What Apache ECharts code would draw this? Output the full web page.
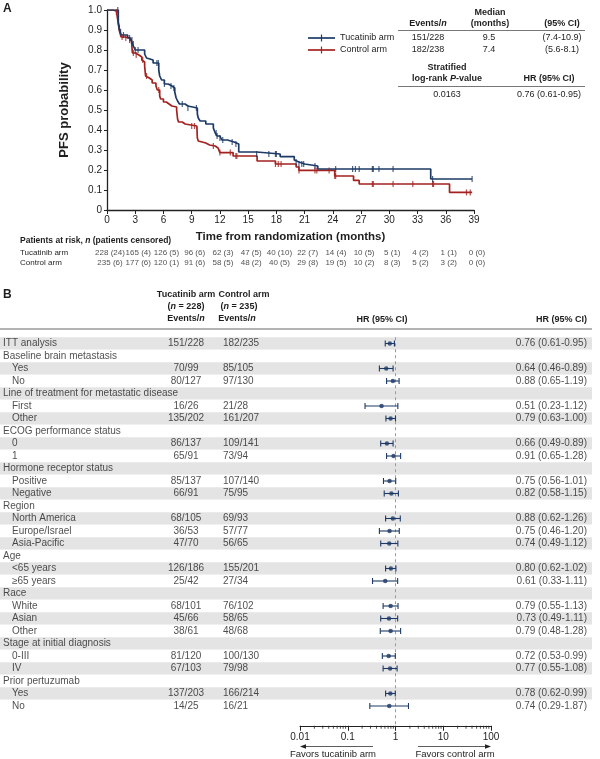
<!DOCTYPE html>
<html>
<head>
<meta charset="utf-8">
<script src="https://cdn.jsdelivr.net/npm/echarts@6/dist/echarts.min.js"></script>
<style>
html, body { margin: 0; padding: 0; background: #fff; }
#chart { width: 600px; height: 759px; }
</style>
</head>
<body>
<div id="chart"></div>
<script>
// ---------- Panel A: Kaplan-Meier step points [month, PFS probability] ----------
const tucatinibKM = [[0,1.0],[1.2,0.94],[1.3,0.91],[1.4,0.89],[1.5,0.875],[2.2,0.86],[2.5,0.85],[2.7,0.83],[2.85,0.815],[3.0,0.80],
  [4.0,0.78],[4.2,0.76],[4.4,0.75],[4.9,0.735],[5.5,0.70],[5.6,0.67],[5.8,0.65],[6.1,0.63],[6.5,0.62],[6.9,0.61],[7.2,0.59],
  [7.35,0.56],[7.5,0.545],[7.7,0.53],[8.3,0.52],[8.6,0.51],[9.6,0.48],[9.7,0.46],[9.9,0.445],[10.5,0.43],[11.3,0.41],[11.5,0.385],
  [11.7,0.37],[12.0,0.36],[12.2,0.35],[12.8,0.34],[13.5,0.33],[14.0,0.29],[15.9,0.28],[18.4,0.267],[19.9,0.25],[20.1,0.24],
  [20.4,0.23],[21.0,0.22],[22.4,0.205],[34.4,0.155],[38.8,0.155]];
const controlKM = [[0,1.0],[0.6,0.995],[1.0,0.99],[1.2,0.93],[1.35,0.89],[1.5,0.865],[1.9,0.86],[2.4,0.85],[2.6,0.845],[2.7,0.785],
  [3.0,0.775],[3.4,0.765],[3.7,0.75],[3.9,0.74],[4.0,0.72],[4.1,0.67],[4.3,0.66],[4.5,0.65],[4.8,0.635],[5.2,0.62],[5.35,0.60],
  [5.6,0.57],[5.7,0.555],[6.0,0.54],[6.3,0.53],[6.6,0.52],[6.9,0.515],[7.4,0.50],[7.5,0.455],[7.6,0.44],[8.0,0.43],[8.3,0.42],
  [9.55,0.415],[9.6,0.36],[9.7,0.345],[9.9,0.335],[10.5,0.325],[10.9,0.32],[11.5,0.31],[11.8,0.30],[12.0,0.287],[13.4,0.27],
  [15.95,0.245],[17.9,0.23],[20.1,0.215],[20.4,0.198],[24.2,0.17],[26.2,0.148],[26.8,0.13],[36.4,0.088],[38.8,0.088]];
// censoring times (months)
const tucatinibCensor = [1.15,1.3,1.45,1.75,2.4,2.65,2.8,3.0,3.3,5.3,5.45,6.1,6.8,7.1,8.0,8.6,9.5,11.6,11.7,12.0,12.3,13.3,13.7,
  15.9,17.2,17.9,18.0,20.1,20.4,20.7,20.9,22.1,24.3,26.1,26.4,26.8,28.2,28.3,28.9,30.4,34.6,38.8];
const controlCensor = [1.0,1.6,2.0,2.4,2.8,3.1,3.8,4.2,5.5,9.0,9.3,11.3,12.0,13.1,13.7,13.8,17.9,18.2,18.5,20.4,22.1,22.3,23.6,
  24.2,24.3,28.2,28.3,30.4,32.5,34.6,34.7,38.2,38.6];

const riskMonths = [0,3,6,9,12,15,18,21,24,27,30,33,36,39];
const tucatinibAtRisk = ['228 (24)','165 (4)','126 (5)','96 (6)','62 (3)','47 (5)','40 (10)','22 (7)','14 (4)','10 (5)','5 (1)','4 (2)','1 (1)','0 (0)'];
const controlAtRisk = ['235 (6)','177 (6)','120 (1)','91 (6)','58 (5)','48 (2)','40 (5)','29 (8)','19 (5)','10 (2)','8 (3)','5 (2)','3 (2)','0 (0)'];

// ---------- Panel B: subgroup forest plot ----------
const rowLabels = ['ITT analysis','Baseline brain metastasis','Yes','No','Line of treatment for metastatic disease','First','Other',
  'ECOG performance status','0','1','Hormone receptor status','Positive','Negative','Region','North America','Europe/Israel',
  'Asia-Pacific','Age','<65 years','≥65 years','Race','White','Asian','Other','Stage at initial diagnosis','0-III','IV',
  'Prior pertuzumab','Yes','No'];
const rowIndent = [0,0,1,1,0,1,1,0,1,1,0,1,1,0,1,1,1,0,1,1,0,1,1,1,0,1,1,0,1,1];
const tucatinibEvents = ['151/228','','70/99','80/127','','16/26','135/202','','86/137','65/91','','85/137','66/91','',
  '68/105','36/53','47/70','','126/186','25/42','','68/101','45/66','38/61','','81/120','67/103','','137/203','14/25'];
const controlEvents = ['182/235','','85/105','97/130','','21/28','161/207','','109/141','73/94','','107/140','75/95','',
  '69/93','57/77','56/65','','155/201','27/34','','76/102','58/65','48/68','','100/130','79/98','','166/214','16/21'];
const hr     = [0.76,null,0.64,0.88,null,0.51,0.79,null,0.66,0.91,null,0.75,0.82,null,0.88,0.75,0.74,null,0.80,0.61,null,0.79,0.73,0.79,null,0.72,0.77,null,0.78,0.74];
const hrLow  = [0.61,null,0.46,0.65,null,0.23,0.63,null,0.49,0.65,null,0.56,0.58,null,0.62,0.46,0.49,null,0.62,0.33,null,0.55,0.49,0.48,null,0.53,0.55,null,0.62,0.29];
const hrHigh = [0.95,null,0.89,1.19,null,1.12,1.00,null,0.89,1.28,null,1.01,1.15,null,1.26,1.20,1.12,null,1.02,1.11,null,1.13,1.11,1.28,null,0.99,1.08,null,0.99,1.87];
const minorTicks = [0.02,0.03,0.04,0.05,0.06,0.07,0.08,0.09,0.2,0.3,0.4,0.5,0.6,0.7,0.8,0.9,2,3,4,5,6,7,8,9,20,30,40,50,60,70,80,90];

const BLUE = '#1d3a66';
const RED = '#a3221f';
const INK = '#1e1e1e';
const FONT = 'Liberation Sans, Arial, sans-serif';

// survival value of a step curve at time t
const kmAt = (curve, t) => {
  let s = curve[0][1];
  for (const [x, y] of curve) { if (x <= t) s = y; else break; }
  return s;
};

const txt = (x, y, text, o = {}) => {
  const size = o.size || 9;
  const weight = o.bold ? 'bold' : 'normal';
  return {
    type: 'text', x, y, silent: true,
    style: {
      text, fill: INK, fontSize: size, fontFamily: FONT, fontWeight: weight,
      align: o.align || 'center', verticalAlign: 'middle',
      rich: { i: { fontStyle: 'italic', fontWeight: weight, fontSize: size, fontFamily: FONT, fill: INK } }
    }
  };
};
const hline = (x1, x2, y, color = '#777', w = 1) => ({
  type: 'line', silent: true, shape: { x1, y1: y, x2, y2: y }, style: { stroke: color, lineWidth: w }
});

const rows = rowLabels.map((_, i) => String(i));
const pitch = 12.5;
const tableTop = 337.25, tableH = rows.length * pitch;
const axisY = tableTop + tableH + pitch;

const axisTextA = { color: INK, fontSize: 10, fontFamily: FONT };
const cellLabel = align => ({ show: true, position: 'inside', align, formatter: p => p.data[2], color: INK, fontSize: 10, fontFamily: FONT });

const option = {
  animation: false,
  grid: [
    { left: 107, right: 126, top: 10, height: 200, containLabel: false },
    { left: 107, right: 126, top: 248, height: 20, containLabel: false },
    { left: 0, right: 8, top: tableTop, height: tableH, containLabel: false },
    // forest grid has one extra empty row so the reference line reaches the axis
    { left: 300, right: 109, top: tableTop, height: tableH + pitch, containLabel: false },
    { left: 300, right: 109, top: axisY, height: 1, containLabel: false }
  ],
  xAxis: [
    {
      gridIndex: 0, type: 'value', min: 0, max: 39, interval: 3,
      name: 'Time from randomization (months)', nameLocation: 'middle', nameGap: 21,
      nameTextStyle: { color: INK, fontSize: 11.5, fontWeight: 'bold', fontFamily: FONT },
      axisLine: { lineStyle: { color: '#222', width: 1.3 } },
      axisTick: { length: 4, lineStyle: { color: '#222' } },
      axisLabel: Object.assign({ margin: 5 }, axisTextA),
      splitLine: { show: false }
    },
    { gridIndex: 1, type: 'value', min: 0, max: 39, show: false },
    { gridIndex: 2, type: 'value', min: 0, max: 592, show: false },
    { gridIndex: 3, type: 'log', logBase: 10, min: 0.01, max: 100, show: false },
    {
      gridIndex: 4, type: 'log', logBase: 10, min: 0.01, max: 100, position: 'bottom',
      axisLine: { lineStyle: { color: '#222', width: 1 } },
      axisTick: { length: 5, lineStyle: { color: '#222' } },
      axisLabel: { color: INK, fontSize: 10, fontFamily: FONT, margin: 6, formatter: v => String(+Number(v).toPrecision(2)) },
      splitLine: { show: false }
    }
  ],
  yAxis: [
    {
      gridIndex: 0, type: 'value', min: 0, max: 1, interval: 0.1,
      name: 'PFS probability', nameLocation: 'middle', nameGap: 36,
      nameTextStyle: { color: INK, fontSize: 13, fontWeight: 'bold', fontFamily: FONT },
      axisLine: { show: true, lineStyle: { color: '#222', width: 1.3 } },
      axisTick: { show: true, length: 3, lineStyle: { color: '#222' } },
      axisLabel: Object.assign({ margin: 5, formatter: v => (v === 0 ? '0' : v.toFixed(1)) }, axisTextA),
      splitLine: { show: false }
    },
    {
      gridIndex: 1, type: 'category', inverse: true, data: ['Tucatinib arm', 'Control arm'],
      axisLine: { show: false }, axisTick: { show: false },
      axisLabel: { align: 'left', margin: 87, color: INK, fontSize: 8, fontFamily: FONT, interval: 0 }
    },
    {
      gridIndex: 2, type: 'category', inverse: true, data: rows,
      axisLine: { show: false }, axisTick: { show: false }, axisLabel: { show: false },
      splitLine: { show: false },
      splitArea: { show: true, interval: 0, areaStyle: { color: ['#e4e4e4', '#ffffff'] } }
    },
    { gridIndex: 3, type: 'category', inverse: true, data: rows.concat(['']), show: false },
    { gridIndex: 4, type: 'value', min: 0, max: 1, show: false }
  ],
  series: [
    {
      type: 'line', xAxisIndex: 0, yAxisIndex: 0, step: 'end', showSymbol: false, data: controlKM,
      lineStyle: { color: RED, width: 1.7 }, itemStyle: { color: RED }, z: 3
    },
    {
      type: 'line', xAxisIndex: 0, yAxisIndex: 0, step: 'end', showSymbol: false, data: tucatinibKM,
      lineStyle: { color: BLUE, width: 1.7 }, itemStyle: { color: BLUE }, z: 4
    },
    {
      type: 'scatter', xAxisIndex: 0, yAxisIndex: 0, symbol: 'rect', symbolSize: [1.2, 6], z: 5,
      itemStyle: { color: RED }, data: controlCensor.map(t => [t, kmAt(controlKM, t)])
    },
    {
      type: 'scatter', xAxisIndex: 0, yAxisIndex: 0, symbol: 'rect', symbolSize: [1.2, 6], z: 6,
      itemStyle: { color: BLUE }, data: tucatinibCensor.map(t => [t, kmAt(tucatinibKM, t)])
    },
    // patients at risk
    ...[[tucatinibAtRisk, 'Tucatinib arm'], [controlAtRisk, 'Control arm']].map(([vals, arm]) => ({
      type: 'scatter', xAxisIndex: 1, yAxisIndex: 1, symbolSize: 0, silent: true,
      data: riskMonths.map((m, i) => [m, arm, vals[i]]),
      label: { show: true, position: 'inside', offset: [3, 0], formatter: p => p.data[2], color: INK, fontSize: 8, fontFamily: FONT }
    })),
    // table text columns
    {
      type: 'scatter', xAxisIndex: 2, yAxisIndex: 2, symbolSize: 0, silent: true,
      data: rowLabels.map((s, i) => [rowIndent[i] ? 12 : 3, String(i), s]), label: cellLabel('left')
    },
    {
      type: 'scatter', xAxisIndex: 2, yAxisIndex: 2, symbolSize: 0, silent: true,
      data: tucatinibEvents.map((s, i) => [186, String(i), s]), label: cellLabel('center')
    },
    {
      type: 'scatter', xAxisIndex: 2, yAxisIndex: 2, symbolSize: 0, silent: true,
      data: controlEvents.map((s, i) => [223, String(i), s]), label: cellLabel('left')
    },
    {
      type: 'scatter', xAxisIndex: 2, yAxisIndex: 2, symbolSize: 0, silent: true,
      data: hr.map((h, i) => [587, String(i), h == null ? '' : `${h.toFixed(2)} (${hrLow[i].toFixed(2)}-${hrHigh[i].toFixed(2)})`]),
      label: cellLabel('right')
    },
    // confidence intervals
    {
      type: 'custom', xAxisIndex: 3, yAxisIndex: 3, silent: true, z: 5,
      data: hr.map((h, i) => [h, String(i), hrLow[i], hrHigh[i]]).filter(d => d[0] != null),
      renderItem: (params, api) => {
        const y = api.value(1);
        const lo = api.coord([api.value(2), y]);
        const hi = api.coord([api.value(3), y]);
        const st = { stroke: BLUE, lineWidth: 1.1 };
        return {
          type: 'group', children: [
            { type: 'line', shape: { x1: lo[0], y1: lo[1], x2: hi[0], y2: hi[1] }, style: st },
            { type: 'line', shape: { x1: lo[0], y1: lo[1] - 3, x2: lo[0], y2: lo[1] + 3 }, style: st },
            { type: 'line', shape: { x1: hi[0], y1: hi[1] - 3, x2: hi[0], y2: hi[1] + 3 }, style: st }
          ]
        };
      }
    },
    {
      type: 'scatter', xAxisIndex: 3, yAxisIndex: 3, symbol: 'circle', symbolSize: 4.5, silent: true, z: 6,
      itemStyle: { color: BLUE },
      data: hr.map((h, i) => [h, String(i)]).filter(d => d[0] != null),
      markLine: {
        silent: true, symbol: 'none', label: { show: false },
        lineStyle: { color: '#9a9a9a', type: [3, 3], width: 1 },
        data: [{ xAxis: 1 }]
      }
    },
    // minor ticks of the HR axis
    {
      type: 'scatter', xAxisIndex: 4, yAxisIndex: 4, symbol: 'rect', symbolSize: [1, 3], symbolOffset: [0, 1.5],
      silent: true, itemStyle: { color: '#222' }, data: minorTicks.map(v => [v, 0])
    }
  ],
  graphic: [
    // panel A
    txt(3, 9, 'A', { bold: true, size: 12, align: 'left' }),
    { type: 'line', silent: true, shape: { x1: 308, y1: 38, x2: 335, y2: 38 }, style: { stroke: BLUE, lineWidth: 1.7 } },
    { type: 'line', silent: true, shape: { x1: 321.5, y1: 34.5, x2: 321.5, y2: 41.5 }, style: { stroke: BLUE, lineWidth: 1.2 } },
    { type: 'line', silent: true, shape: { x1: 308, y1: 50, x2: 335, y2: 50 }, style: { stroke: RED, lineWidth: 1.7 } },
    { type: 'line', silent: true, shape: { x1: 321.5, y1: 46.5, x2: 321.5, y2: 53.5 }, style: { stroke: RED, lineWidth: 1.2 } },
    txt(490, 13, 'Median', { bold: true }),
    txt(428, 24, 'Events/{i|n}', { bold: true }),
    txt(490, 24, '(months)', { bold: true }),
    txt(562, 24, '(95% CI)', { bold: true }),
    hline(398, 585, 30.5),
    txt(340, 38, 'Tucatinib arm', { align: 'left' }),
    txt(428, 38, '151/228'),
    txt(489, 38, '9.5'),
    txt(562, 38, '(7.4-10.9)'),
    txt(340, 50, 'Control arm', { align: 'left' }),
    txt(428, 50, '182/238'),
    txt(489, 50, '7.4'),
    txt(562, 50, '(5.6-8.1)'),
    txt(447, 68, 'Stratified', { bold: true }),
    txt(447, 79, 'log-rank {i|P}-value', { bold: true }),
    txt(549, 79, 'HR (95% CI)', { bold: true }),
    hline(398, 585, 86.5),
    txt(447, 95, '0.0163'),
    txt(549, 95, '0.76 (0.61-0.95)'),
    txt(20, 241, 'Patients at risk, {i|n} (patients censored)', { bold: true, size: 8.5, align: 'left' }),
    // panel B header
    txt(3, 295, 'B', { bold: true, size: 12, align: 'left' }),
    txt(186, 295, 'Tucatinib arm', { bold: true }),
    txt(244, 295, 'Control arm', { bold: true }),
    txt(186, 307, '({i|n} = 228)', { bold: true }),
    txt(239, 307, '({i|n} = 235)', { bold: true }),
    txt(186, 319, 'Events/{i|n}', { bold: true }),
    txt(237, 319, 'Events/{i|n}', { bold: true }),
    txt(382, 320, 'HR (95% CI)', { bold: true }),
    txt(587, 320, 'HR (95% CI)', { bold: true, align: 'right' }),
    hline(0, 592, 329, '#666', 1),
    // favours arrows
    hline(304, 373, 746.5, '#333', 0.8),
    { type: 'polygon', silent: true, shape: { points: [[300, 746.5], [306, 744.2], [306, 748.8]] }, style: { fill: '#222' } },
    hline(418, 487, 746.5, '#333', 0.8),
    { type: 'polygon', silent: true, shape: { points: [[491, 746.5], [485, 744.2], [485, 748.8]] }, style: { fill: '#222' } },
    txt(333, 754.5, 'Favors tucatinib arm', { size: 9.5 }),
    txt(455, 754.5, 'Favors control arm', { size: 9.5 })
  ]
};

const chart = echarts.init(document.getElementById('chart'));
chart.setOption(option);
</script>
</body>
</html>
